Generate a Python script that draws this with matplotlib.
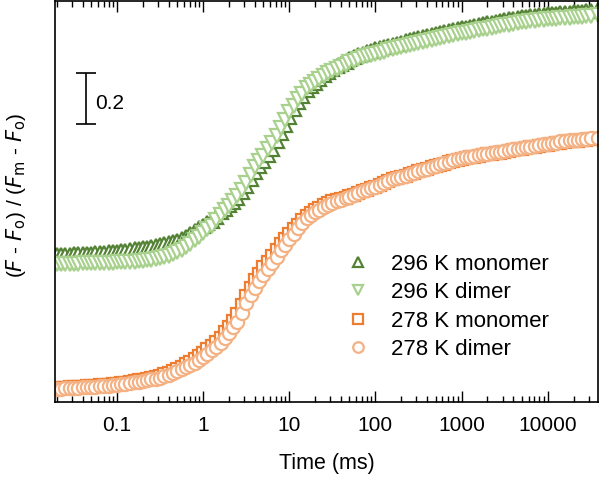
import matplotlib
matplotlib.use('Agg')
import matplotlib.pyplot as plt
import numpy as np

plt.rcParams['font.family'] = ['Liberation Sans', 'DejaVu Sans']

# time points (ms)
time_ms = [0.02, 0.0224, 0.025, 0.028, 0.0315, 0.0355, 0.04, 0.045, 0.05, 0.056, 0.063, 0.071, 0.08, 0.09,
           0.1, 0.112, 0.125, 0.14, 0.16, 0.18, 0.2, 0.224, 0.25, 0.28, 0.315, 0.355, 0.4, 0.45, 0.5, 0.56, 0.63, 0.71, 0.8, 0.9,
           1, 1.12, 1.25, 1.4, 1.6, 1.8, 2, 2.24, 2.5, 2.8, 3.15, 3.55, 4, 4.5, 5, 5.6, 6.3, 7.1, 8, 9,
           10, 11.2, 12.5, 14, 16, 18, 20, 22.4, 25, 28, 31.5, 35.5, 40, 45, 50, 56, 63, 71, 80, 90,
           100, 112, 125, 140, 160, 180, 200, 224, 250, 280, 315, 355, 400, 450, 500, 560, 630, 710, 800, 900,
           1000, 1120, 1250, 1400, 1600, 1800, 2000, 2240, 2500, 2800, 3150, 3550, 4000, 4500, 5000, 5600, 6300, 7100, 8000, 9000,
           10000, 11200, 12500, 14000, 16000, 18000, 20000, 22400, 25000, 28000, 31500, 38000]

# (F - Fo) / (Fm - Fo)
mono_296 = [0.035, 0.036, 0.037, 0.0375, 0.038, 0.039, 0.040, 0.0405, 0.041, 0.042, 0.043, 0.0445, 0.046, 0.0475,
            0.049, 0.051, 0.053, 0.055, 0.058, 0.060, 0.063, 0.065, 0.068, 0.071, 0.074, 0.078, 0.082, 0.087, 0.092, 0.099, 0.107, 0.118, 0.130, 0.140,
            0.150, 0.160, 0.170, 0.186, 0.203, 0.216, 0.230, 0.245, 0.260, 0.282, 0.305, 0.333, 0.362, 0.383, 0.404, 0.428, 0.452, 0.482, 0.513, 0.547,
            0.578, 0.608, 0.636, 0.659, 0.682, 0.698, 0.712, 0.726, 0.740, 0.754, 0.767, 0.776, 0.785, 0.794, 0.803, 0.811, 0.819, 0.826, 0.833, 0.838,
            0.842, 0.847, 0.851, 0.856, 0.861, 0.865, 0.869, 0.874, 0.878, 0.882, 0.886, 0.890, 0.894, 0.898, 0.902, 0.906, 0.910, 0.914, 0.918, 0.922,
            0.926, 0.928, 0.931, 0.935, 0.938, 0.941, 0.944, 0.947, 0.950, 0.954, 0.957, 0.960, 0.963, 0.966, 0.969, 0.971, 0.973, 0.975, 0.977, 0.979,
            0.980, 0.982, 0.983, 0.985, 0.986, 0.987, 0.988, 0.990, 0.991, 0.993, 0.994, 0.996]
dimer_296 = [0.000, 0.000, 0.001, 0.001, 0.002, 0.002, 0.003, 0.003, 0.003, 0.004, 0.004, 0.004, 0.005, 0.006,
             0.007, 0.007, 0.008, 0.009, 0.010, 0.011, 0.013, 0.015, 0.018, 0.021, 0.024, 0.028, 0.033, 0.039, 0.046, 0.056, 0.067, 0.080, 0.093, 0.107,
             0.121, 0.136, 0.151, 0.172, 0.193, 0.211, 0.229, 0.248, 0.267, 0.292, 0.318, 0.350, 0.381, 0.403, 0.425, 0.450, 0.475, 0.504, 0.534, 0.565,
             0.596, 0.622, 0.648, 0.669, 0.690, 0.703, 0.715, 0.726, 0.737, 0.748, 0.759, 0.767, 0.775, 0.783, 0.791, 0.798, 0.805, 0.812, 0.818, 0.822,
             0.826, 0.830, 0.834, 0.839, 0.843, 0.847, 0.851, 0.855, 0.859, 0.863, 0.867, 0.871, 0.874, 0.878, 0.882, 0.886, 0.890, 0.894, 0.898, 0.902,
             0.906, 0.908, 0.911, 0.915, 0.918, 0.921, 0.924, 0.927, 0.930, 0.934, 0.937, 0.940, 0.943, 0.946, 0.949, 0.951, 0.953, 0.955, 0.957, 0.959,
             0.960, 0.962, 0.963, 0.965, 0.966, 0.967, 0.968, 0.970, 0.971, 0.973, 0.974, 0.976]
mono_278 = [0.003, 0.004, 0.005, 0.006, 0.007, 0.008, 0.009, 0.010, 0.011, 0.012, 0.014, 0.015, 0.016, 0.018,
            0.019, 0.022, 0.025, 0.028, 0.032, 0.034, 0.037, 0.040, 0.044, 0.048, 0.052, 0.058, 0.064, 0.071, 0.079, 0.088, 0.097, 0.107, 0.117, 0.129,
            0.142, 0.155, 0.169, 0.184, 0.200, 0.222, 0.245, 0.268, 0.293, 0.329, 0.365, 0.397, 0.428, 0.453, 0.477, 0.500, 0.523, 0.546, 0.569, 0.589,
            0.608, 0.627, 0.645, 0.663, 0.680, 0.691, 0.702, 0.711, 0.720, 0.728, 0.736, 0.741, 0.746, 0.751, 0.756, 0.762, 0.769, 0.775, 0.781, 0.787,
            0.794, 0.800, 0.807, 0.815, 0.822, 0.826, 0.831, 0.836, 0.842, 0.848, 0.854, 0.859, 0.864, 0.869, 0.874, 0.879, 0.884, 0.889, 0.895, 0.900,
            0.904, 0.906, 0.909, 0.912, 0.915, 0.917, 0.920, 0.922, 0.925, 0.927, 0.930, 0.934, 0.937, 0.940, 0.943, 0.945, 0.948, 0.951, 0.955, 0.957,
            0.959, 0.961, 0.964, 0.967, 0.970, 0.971, 0.973, 0.974, 0.976, 0.978, 0.979, 0.980]
dimer_278 = [0.000, 0.001, 0.002, 0.003, 0.004, 0.005, 0.006, 0.007, 0.008, 0.009, 0.011, 0.012, 0.013, 0.014,
             0.016, 0.018, 0.021, 0.024, 0.027, 0.029, 0.032, 0.035, 0.038, 0.041, 0.045, 0.050, 0.056, 0.062, 0.069, 0.077, 0.085, 0.094, 0.103, 0.114,
             0.126, 0.138, 0.151, 0.165, 0.180, 0.200, 0.220, 0.242, 0.264, 0.300, 0.336, 0.367, 0.398, 0.423, 0.447, 0.470, 0.493, 0.518, 0.544, 0.566,
             0.588, 0.609, 0.630, 0.650, 0.670, 0.682, 0.694, 0.704, 0.713, 0.722, 0.731, 0.737, 0.743, 0.749, 0.754, 0.761, 0.768, 0.775, 0.781, 0.788,
             0.794, 0.800, 0.807, 0.815, 0.822, 0.826, 0.831, 0.836, 0.842, 0.849, 0.855, 0.860, 0.865, 0.871, 0.876, 0.881, 0.886, 0.892, 0.898, 0.903,
             0.907, 0.909, 0.912, 0.915, 0.918, 0.920, 0.923, 0.925, 0.928, 0.930, 0.933, 0.937, 0.940, 0.943, 0.946, 0.948, 0.951, 0.955, 0.958, 0.960,
             0.962, 0.964, 0.967, 0.971, 0.974, 0.975, 0.977, 0.978, 0.980, 0.982, 0.983, 0.984]

labels = ['296 K monomer', '296 K dimer', '278 K monomer', '278 K dimer']
offset_296 = 0.49  # vertical shift of the 296 K traces

t = np.array(time_ms)
fig = plt.figure(figsize=(6.0, 4.79), dpi=100)
ax = fig.add_axes([0.0917, 0.1608, 0.905, 0.837])

ms = 9.5
mew = 1.6
h1, = ax.plot(t, np.array(mono_296) + offset_296, ls='none', marker='^', ms=ms,
              mfc='white', mec='#548235', mew=mew)
h2, = ax.plot(t, np.array(dimer_296) + offset_296, ls='none', marker='v', ms=ms,
              mfc='white', mec='#A9D18E', mew=mew)
h3, = ax.plot(t, mono_278, ls='none', marker='s', ms=ms - 1,
              mfc='white', mec='#ED7D31', mew=mew)
h4, = ax.plot(t, dimer_278, ls='none', marker='o', ms=ms,
              mfc='white', mec='#F4B183', mew=mew)

ax.set_xscale('log')
ax.set_xlim(0.019, 38500)
ax.set_ylim(-0.051, 1.522)
ax.set_xticks([0.1, 1, 10, 100, 1000, 10000])
ax.set_xticklabels(['0.1', '1', '10', '100', '1000', '10000'])
ax.set_yticks([])
ax.tick_params(axis='x', which='both', direction='in', top=True, labelsize=15)
ax.tick_params(axis='x', which='major', length=8, width=1)
ax.tick_params(axis='x', which='minor', length=4, width=1)
ax.tick_params(axis='x', pad=10)
for s in ax.spines.values():
    s.set_linewidth(1.2)

ax.set_xlabel('Time (ms)', fontsize=15.5, labelpad=13)
ax.set_ylabel(r'($\it{F}$ - $\it{F}$$_\mathrm{o}$) / ($\it{F}$$_\mathrm{m}$ - $\it{F}$$_\mathrm{o}$)',
              fontsize=15)
ax.yaxis.set_label_coords(-0.05, 0.515)

# 0.2 scale bar
ax.errorbar([0.043], [1.139], yerr=0.1, color='black', lw=1.2, capsize=7,
            capthick=1.2)
ax.text(0.056, 1.122, '0.2', fontsize=15, va='center', ha='left')

ax.legend([h1, h2, h3, h4], labels, loc='upper left',
          bbox_to_anchor=(0.496, 0.42), frameon=False, fontsize=16,
          handlelength=1.2, handletextpad=0.9, labelspacing=0.34,
          markerscale=0.8)

fig.savefig('out.png', dpi=100)
